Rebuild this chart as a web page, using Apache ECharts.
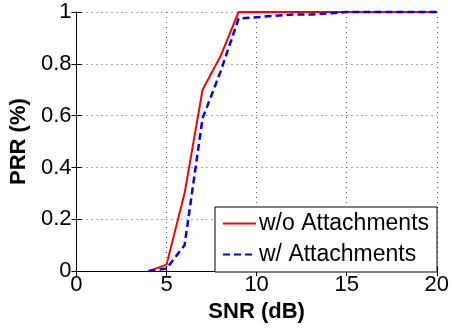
<!DOCTYPE html>
<html>
<head>
<meta charset="utf-8">
<script src="https://cdn.jsdelivr.net/npm/echarts@6/dist/echarts.min.js"></script>
<style>
  html, body { margin: 0; padding: 0; background: #fff; }
  #chart { width: 452px; height: 328px; }
</style>
</head>
<body>
<div id="chart"></div>
<script>
// SNR (dB) sample points and PRR
const snrNoAttach = [4, 5, 6, 7, 8, 9, 10, 11, 12, 13, 14, 15, 16, 17, 18, 19, 20];
const prrNoAttach = [0, 0.025, 0.3, 0.7, 0.83, 1, 1, 1, 1, 1, 1, 1, 1, 1, 1, 1, 1];

const snrAttach = [4, 5, 6, 7, 8, 9, 10, 11, 12, 13, 14, 15, 16, 17, 18, 19, 20];
const prrAttach = [0, 0.01, 0.1, 0.59, 0.77, 0.975, 0.98, 0.985, 0.99, 0.99, 0.995, 1, 1, 1, 1, 1, 1];

const xTicks = [0, 5, 10, 15, 20];
const yTicks = [0, 0.2, 0.4, 0.6, 0.8, 1];

const seriesNames = ["w/o Attachments", "w/ Attachments"];

const font = "'Liberation Sans', Arial, Helvetica, sans-serif";
const pair = (xs, ys) => xs.map((x, i) => [x, ys[i]]);

const chart = echarts.init(document.getElementById("chart"), null, { renderer: "canvas" });

const gridLine = { show: true, lineStyle: { color: "#555", type: [1, 4], width: 1 } };
const blackLine = { show: true, lineStyle: { color: "#000", width: 1 } };
const inTick = { show: true, inside: true, length: 5, lineStyle: { color: "#000" } };

chart.setOption({
  animation: false,
  textStyle: { fontFamily: font },
  grid: { left: 72, right: 14, top: 12, bottom: 55 },
  legend: {
    data: seriesNames,
    orient: "vertical",
    left: 215,
    top: 207,
    padding: [5, 8, 6, 7],
    itemGap: 8,
    itemWidth: 33,
    itemHeight: 14,
    itemStyle: { opacity: 0 },
    backgroundColor: "#fff",
    borderColor: "#000",
    borderWidth: 1,
    borderRadius: 0,
    textStyle: { fontFamily: font, fontSize: 23, color: "#000", lineHeight: 22, padding: [0, 0, 0, -2] },
  },
  xAxis: [
    {
      type: "value",
      min: xTicks[0],
      max: xTicks[xTicks.length - 1],
      interval: xTicks[1] - xTicks[0],
      name: "SNR (dB)",
      nameLocation: "middle",
      nameGap: 26,
      nameTextStyle: { fontFamily: font, fontSize: 22, fontWeight: "bold", color: "#000" },
      axisLine: blackLine,
      axisTick: inTick,
      axisLabel: { fontFamily: font, fontSize: 22, color: "#000", margin: 3 },
      splitLine: gridLine,
    },
    {
      type: "value",
      position: "top",
      min: xTicks[0],
      max: xTicks[xTicks.length - 1],
      interval: xTicks[1] - xTicks[0],
      axisLine: blackLine,
      axisTick: inTick,
      axisLabel: { show: false },
      splitLine: { show: false },
    },
  ],
  yAxis: [
    {
      type: "value",
      min: yTicks[0],
      max: yTicks[yTicks.length - 1],
      interval: yTicks[1] - yTicks[0],
      name: "PRR (%)",
      nameLocation: "middle",
      nameGap: 43,
      nameTextStyle: { fontFamily: font, fontSize: 22, fontWeight: "bold", color: "#000" },
      axisLine: blackLine,
      axisTick: inTick,
      axisLabel: { fontFamily: font, fontSize: 22, color: "#000", margin: 5 },
      splitLine: gridLine,
    },
    {
      type: "value",
      position: "right",
      min: yTicks[0],
      max: yTicks[yTicks.length - 1],
      interval: yTicks[1] - yTicks[0],
      axisLine: blackLine,
      axisTick: inTick,
      axisLabel: { show: false },
      splitLine: { show: false },
    },
  ],
  series: [
    {
      name: seriesNames[0],
      type: "line",
      symbol: "none",
      clip: false,
      color: "#ff0000",
      lineStyle: { color: "#ff0000", width: 2 },
      data: pair(snrNoAttach, prrNoAttach),
    },
    {
      name: seriesNames[1],
      type: "line",
      symbol: "none",
      clip: false,
      color: "#0000ff",
      lineStyle: { color: "#0000ff", width: 2.5, type: [7, 4] },
      data: pair(snrAttach, prrAttach),
    },
  ],
});
</script>
</body>
</html>
